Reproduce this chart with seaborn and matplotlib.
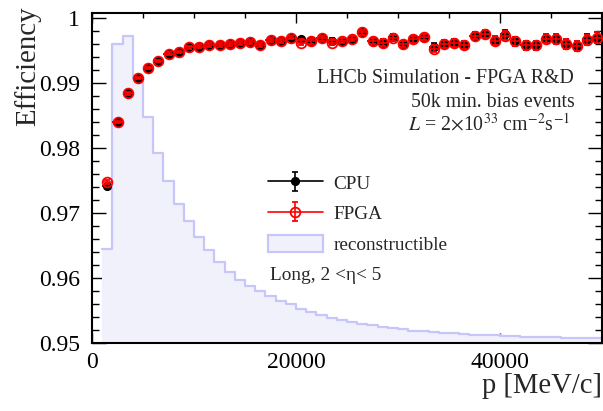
import matplotlib
matplotlib.use("Agg")
import matplotlib.pyplot as plt
import seaborn as sns
import numpy as np
from matplotlib.ticker import MultipleLocator, FuncFormatter
from matplotlib.lines import Line2D
from matplotlib.patches import Patch
from matplotlib.legend_handler import HandlerTuple

# ---------------- data ----------------
p_centers = [1500, 2500, 3500, 4500, 5500, 6500, 7500, 8500, 9500, 10500,
             11500, 12500, 13500, 14500, 15500, 16500, 17500, 18500, 19500, 20500,
             21500, 22500, 23500, 24500, 25500, 26500, 27500, 28500, 29500, 30500,
             31500, 32500, 33500, 34500, 35500, 36500, 37500, 38500, 39500, 40500,
             41500, 42500, 43500, 44500, 45500, 46500, 47500, 48500, 49500]
bin_half_width = 500

cpu_eff = [0.9742, 0.9840, 0.9884, 0.9908, 0.9923, 0.9934, 0.9945, 0.9948, 0.9955, 0.9956,
           0.9958, 0.9958, 0.9960, 0.9962, 0.9963, 0.9959, 0.9966, 0.9964, 0.9970, 0.9967,
           0.9964, 0.9969, 0.9965, 0.9965, 0.9968, 0.9978, 0.9965, 0.9962, 0.9971, 0.9960,
           0.9967, 0.9971, 0.9955, 0.9960, 0.9962, 0.9959, 0.9973, 0.9975, 0.9965, 0.9975,
           0.9964, 0.9958, 0.9958, 0.9968, 0.9968, 0.9960, 0.9957, 0.9968, 0.9970]
fpga_eff = [0.9748, 0.9840, 0.9884, 0.9908, 0.9923, 0.9934, 0.9945, 0.9948, 0.9955, 0.9956,
            0.9958, 0.9958, 0.9960, 0.9962, 0.9963, 0.9959, 0.9966, 0.9964, 0.9970, 0.9962,
            0.9964, 0.9969, 0.9962, 0.9965, 0.9968, 0.9978, 0.9965, 0.9962, 0.9969, 0.9960,
            0.9967, 0.9971, 0.9953, 0.9960, 0.9962, 0.9959, 0.9973, 0.9975, 0.9965, 0.9973,
            0.9964, 0.9958, 0.9958, 0.9968, 0.9968, 0.9960, 0.9957, 0.9966, 0.9970]
eff_err = [0.0003, 0.0002, 0.0002, 0.0002, 0.0002, 0.0002, 0.0002, 0.0002, 0.0002, 0.0002,
           0.0003, 0.0003, 0.0003, 0.0003, 0.0003, 0.0003, 0.0003, 0.0003, 0.0003, 0.0004,
           0.0004, 0.0004, 0.0004, 0.0004, 0.0004, 0.0004, 0.0005, 0.0005, 0.0005, 0.0005,
           0.0005, 0.0005, 0.0006, 0.0006, 0.0006, 0.0006, 0.0006, 0.0006, 0.0007, 0.0007,
           0.0007, 0.0007, 0.0007, 0.0007, 0.0008, 0.0008, 0.0008, 0.0008, 0.0008]

hist_edges = [1000, 2000, 3000, 4000, 5000, 6000, 7000, 8000, 9000, 10000,
              11000, 12000, 13000, 14000, 15000, 16000, 17000, 18000, 19000, 20000,
              21000, 22000, 23000, 24000, 25000, 26000, 27000, 28000, 29000, 30000,
              31000, 32000, 33000, 34000, 35000, 36000, 37000, 38000, 39000, 40000,
              41000, 42000, 43000, 44000, 45000, 46000, 47000, 48000, 49000, 50000]
hist_heights = [0.9645, 0.9960, 0.9972, 0.9908, 0.9848, 0.9793, 0.9750, 0.9714, 0.9687, 0.9663,
                0.9643, 0.9625, 0.9610, 0.9597, 0.9588, 0.9580, 0.9572, 0.9565, 0.9560, 0.9553,
                0.9548, 0.9543, 0.9539, 0.9535, 0.9532, 0.9529, 0.9527, 0.9525, 0.9523, 0.9521,
                0.9519, 0.9518, 0.9517, 0.9516, 0.9515, 0.9514, 0.9513, 0.9513, 0.9512, 0.9511,
                0.9511, 0.9510, 0.9510, 0.9509, 0.9509, 0.9508, 0.9508, 0.9507, 0.9507]

x_ticks_major = [0, 20000, 40000]
y_ticks_major = [0.95, 0.96, 0.97, 0.98, 0.99, 1.0]

# ---------------- style ----------------
sns.set_style("ticks")
plt.rcParams['font.family'] = ['Liberation Serif', 'DejaVu Serif']
plt.rcParams['mathtext.fontset'] = 'stix'

HIST_FACE = '#f1f1fc'
HIST_EDGE = '#c6c6fb'

fig = plt.figure(figsize=(6.03, 4.11), dpi=100)
ax = fig.add_axes([92 / 603, 1 - 343 / 411, 510 / 603, 330 / 411])

hist_centers = [(a + b) / 2 for a, b in zip(hist_edges[:-1], hist_edges[1:])]
sns.histplot(x=hist_centers, weights=hist_heights, bins=hist_edges, element='step',
             fill=True, color=HIST_FACE, alpha=1, linewidth=0, ax=ax)
sns.histplot(x=hist_centers, weights=hist_heights, bins=hist_edges, element='step',
             fill=False, color=HIST_EDGE, linewidth=1.6, ax=ax)

# CPU
ax.errorbar(p_centers, cpu_eff, xerr=bin_half_width, fmt='none', ecolor='black',
            elinewidth=1.2, capsize=0, zorder=3)
cpu_c = ax.errorbar(p_centers, cpu_eff, yerr=eff_err, fmt='o', color='black', ms=5.6,
                    elinewidth=1.2, capsize=2.2, capthick=1.2, zorder=3)
# FPGA
ax.errorbar(p_centers, fpga_eff, xerr=bin_half_width, fmt='none', ecolor='red',
            elinewidth=1.2, capsize=0, zorder=4)
fpga_c = ax.errorbar(p_centers, fpga_eff, yerr=eff_err, fmt='o', color='red', mfc='none',
                     mec='red', mew=1.3, ms=7.0, elinewidth=1.2, capsize=2.2, capthick=1.2,
                     zorder=4)

ax.set_xlim(0, 50000)
ax.set_ylim(0.95, 1.00077)

ax.xaxis.set_major_locator(plt.FixedLocator(x_ticks_major))
ax.xaxis.set_minor_locator(MultipleLocator(5000))
ax.yaxis.set_major_locator(plt.FixedLocator(y_ticks_major))
ax.yaxis.set_minor_locator(MultipleLocator(0.002))
ax.yaxis.set_major_formatter(FuncFormatter(lambda v, pos: f"{v:g}"))
ax.xaxis.set_major_formatter(FuncFormatter(lambda v, pos: f"{v:.0f}"))

ax.tick_params(axis='both', which='both', direction='in', top=True, right=True,
               width=1.0, colors='black', labelsize=17)
ax.tick_params(axis='y', which='major', length=10, pad=8.5)
ax.tick_params(axis='y', which='minor', length=5)
ax.tick_params(axis='x', which='major', length=7.2, pad=6.5)
ax.tick_params(axis='x', which='minor', length=3.6)
for s in ax.spines.values():
    s.set_linewidth(1.5)
    s.set_color('black')
    s.set_visible(True)

ax.set_ylabel('Efficiency', fontsize=20.8, loc='top')
ax.yaxis.set_label_coords(-0.100, 1.020)
ax.set_xlabel('p [MeV/c]', fontsize=20.6, loc='right')
ax.xaxis.set_label_coords(1.0, -0.090)

# annotations
ax.text(0.945, 0.788, 'LHCb Simulation - FPGA R&D', transform=ax.transAxes,
        ha='right', va='baseline', fontsize=14.3)
ax.text(0.947, 0.715, '50k min. bias events', transform=ax.transAxes,
        ha='right', va='baseline', fontsize=14.3)
ax.text(0.937, 0.645, r'$L$ = 2$\times$10$^{33}$ cm$^{-2}$s$^{-1}$', transform=ax.transAxes,
        ha='right', va='baseline', fontsize=14.3)
ax.text(0.349, 0.190, 'Long, 2 <η< 5', transform=ax.transAxes,
        ha='left', va='baseline', fontsize=13.9)

# legend
h_cpu = (Line2D([], [], color='black', lw=1.2), cpu_c)
h_fpga = (Line2D([], [], color='red', lw=1.2), fpga_c)
h_rec = Patch(facecolor=HIST_FACE, edgecolor=HIST_EDGE, lw=1.6)
ax.legend([h_cpu, h_fpga, h_rec], ['CPU', 'FPGA', 'reconstructible'],
          handler_map={tuple: HandlerTuple(ndivide=1)},
          loc='upper left', bbox_to_anchor=(0.345, 0.513), frameon=False,
          fontsize=13.9, handlelength=2.85, handletextpad=0.55, labelspacing=0.58,
          handleheight=1.0, borderpad=0, borderaxespad=0)

fig.savefig('out.png', dpi=100)
